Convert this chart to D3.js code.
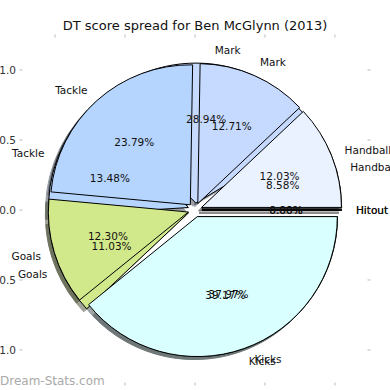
<!DOCTYPE html>
<html>
<head>
<meta charset="utf-8">
<script src="https://cdnjs.cloudflare.com/ajax/libs/d3/7.8.5/d3.min.js"></script>
<style>
body { margin: 0; background: #fff; }
text { font-family: "DejaVu Sans", sans-serif; }
</style>
</head>
<body>
<script>
// data
var categories = ["Hitout", "Handball", "Mark", "Tackle", "Goals", "Kicks"];
var colours = ["#e8e8e8", "#eaf2ff", "#c6daff", "#b5d5ff", "#d1e98b", "#d9ffff"];
// pie drawn first (underneath)
var spreadBack = [0, 8.58, 28.94, 13.48, 11.03, 37.97];
// pie drawn last (on top)
var spreadFront = [0, 12.03, 12.71, 23.79, 12.30, 39.17];
var tickValues = [-1.0, -0.5, 0.0, 0.5, 1.0];
var tickLabels = ["\u22121.0", "\u22120.5", "0.0", "0.5", "1.0"];
var explode = 0.05;

// dimensions
var width = 390;
var height = 390;

var svg = d3.select("body")
    .append("svg")
    .attr("width", width)
    .attr("height", height);

var x = d3.scaleLinear().domain([-1.236, 1.236]).range([22, 368]);
var y = d3.scaleLinear().domain([-1.236, 1.236]).range([383, 37]);
var r = x(1) - x(0);

// counter clockwise from 3 o'clock, like matplotlib
var pie = d3.pie()
    .sort(null)
    .value(function(d) { return d.value; })
    .startAngle(Math.PI / 2)
    .endAngle(Math.PI / 2 - 2 * Math.PI);

var arc = d3.arc().innerRadius(0).outerRadius(r);

function slices(values) {
    var rows = categories.map(function(c, i) {
        return { name: c, value: values[i], colour: colours[i] };
    });
    return pie(rows).map(function(d) {
        var mid = (d.startAngle + d.endAngle) / 2;
        d.ux = Math.sin(mid);
        d.uy = -Math.cos(mid);
        d.cx = x(0) + d.ux * explode * r;
        d.cy = y(0) + d.uy * explode * r;
        return d;
    });
}

function darker(d) {
    var c = d3.rgb(d.data.colour);
    return d3.rgb(c.r * 0.3, c.g * 0.3, c.b * 0.3).toString();
}

var back = slices(spreadBack);
var front = slices(spreadFront);

// shadows sit under every wedge
var shadows = svg.append("g");
[back, front].forEach(function(set) {
    shadows.selectAll(null)
        .data(set)
        .enter()
        .append("path")
        .attr("transform", function(d) {
            return "translate(" + (d.cx - 3) + "," + (d.cy + 3) + ")";
        })
        .attr("d", arc)
        .attr("fill", darker)
        .attr("stroke", darker)
        .attr("opacity", 0.5);
});

[back, front].forEach(function(set) {
    svg.append("g")
        .selectAll("path")
        .data(set)
        .enter()
        .append("path")
        .attr("transform", function(d) {
            return "translate(" + d.cx + "," + d.cy + ")";
        })
        .attr("d", arc)
        .attr("fill", function(d) { return d.data.colour; })
        .attr("stroke", "#000")
        .attr("stroke-width", 1)
        .attr("stroke-linejoin", "round");
});

// labels
[back, front].forEach(function(set) {
    var g = svg.append("g");
    g.selectAll(".name")
        .data(set)
        .enter()
        .append("text")
        .attr("x", function(d) { return d.cx + d.ux * r * 1.1; })
        .attr("y", function(d) { return d.cy + d.uy * r * 1.1; })
        .attr("dy", "0.35em")
        .attr("text-anchor", function(d) {
            return d.cx + d.ux * r * 1.1 > x(0) ? "start" : "end";
        })
        .style("font-size", "10.5px")
        .attr("fill", "#111")
        .text(function(d) { return d.data.name; });

    g.selectAll(".pct")
        .data(set)
        .enter()
        .append("text")
        .attr("x", function(d) { return d.cx + d.ux * r * 0.6; })
        .attr("y", function(d) { return d.cy + d.uy * r * 0.6; })
        .attr("dy", "0.35em")
        .attr("text-anchor", "middle")
        .style("font-size", "10.5px")
        .attr("fill", "#111")
        .text(function(d) { return d.data.value.toFixed(2) + "%"; });
});

// tick marks on all four sides
var ticks = svg.append("g").attr("stroke", "#bbb").attr("stroke-width", 1);
tickValues.forEach(function(t) {
    ticks.append("line").attr("x1", 19.5).attr("x2", 22.5).attr("y1", y(t)).attr("y2", y(t));
    ticks.append("line").attr("x1", 367.5).attr("x2", 370.5).attr("y1", y(t)).attr("y2", y(t));
    ticks.append("line").attr("y1", 34.5).attr("y2", 37.5).attr("x1", x(t)).attr("x2", x(t));
    ticks.append("line").attr("y1", 382.5).attr("y2", 385.5).attr("x1", x(t)).attr("x2", x(t));
});

svg.append("g")
    .selectAll("text")
    .data(tickValues)
    .enter()
    .append("text")
    .attr("x", 16)
    .attr("y", function(d) { return y(d); })
    .attr("dy", "0.35em")
    .attr("text-anchor", "end")
    .style("font-size", "10.5px")
    .attr("fill", "#333")
    .text(function(d, i) { return tickLabels[i]; });

svg.append("g")
    .selectAll("text")
    .data(tickValues)
    .enter()
    .append("text")
    .attr("x", function(d) { return x(d); })
    .attr("y", 398)
    .attr("text-anchor", "middle")
    .style("font-size", "10.5px")
    .attr("fill", "#333")
    .text(function(d, i) { return tickLabels[i]; });

// Heading
svg.append("text")
    .attr("x", 195)
    .attr("y", 30)
    .attr("text-anchor", "middle")
    .style("font-size", "13px")
    .attr("fill", "#111")
    .text("DT score spread for Ben McGlynn (2013)");

// watermark
svg.append("text")
    .attr("x", 0)
    .attr("y", 385)
    .style("font-size", "12px")
    .attr("fill", "#aaa")
    .text("Dream-Stats.com");
</script>
</body>
</html>
